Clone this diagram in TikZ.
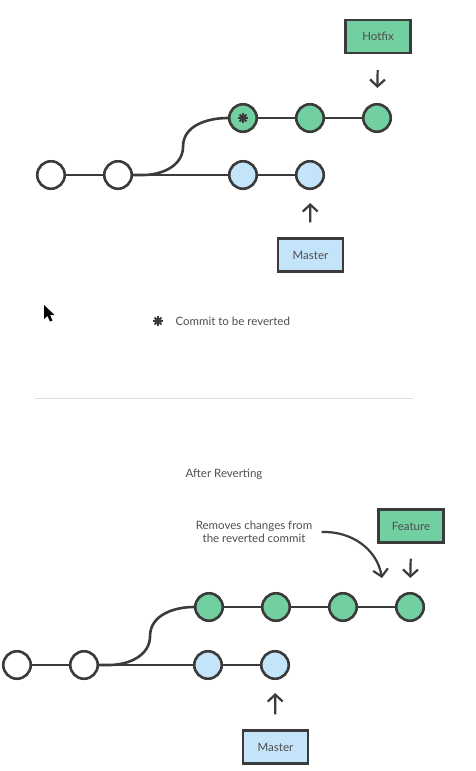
\documentclass[tikz,border=0pt]{standalone}
\usepackage{fontspec}
\setmainfont{Lato}
\usetikzlibrary{arrows.meta}
\definecolor{ink}{HTML}{3B3B3B}
\definecolor{note}{HTML}{4E4E4E}
\definecolor{commitgreen}{HTML}{72CFA0}
\definecolor{commitblue}{HTML}{C4E4FA}
\definecolor{rulegray}{HTML}{DEDEDE}
\tikzset{
  commit/.style={circle,draw=ink,line width=2.6pt,minimum size=27.5pt,inner sep=0pt,fill=white},
  gcommit/.style={commit,fill=commitgreen},
  bcommit/.style={commit,fill=commitblue},
  ref/.style={draw=ink,line width=2.2pt,minimum width=65pt,minimum height=33pt,inner sep=0pt,
              text=note,font=\fontsize{11.5}{13}\selectfont},
  gref/.style={ref,fill=commitgreen},
  bref/.style={ref,fill=commitblue},
  edge/.style={draw=ink,line width=2.6pt},
  ptr/.style={-{Straight Barb[length=7pt,width=15pt]},draw=ink,line width=2.2pt},
  txt/.style={text=note,font=\fontsize{11.5}{12.5}\selectfont,align=center},
  revstar/.pic={
    \fill[ink] (0,0) circle (3pt);
    \foreach \a in {0,45,...,135} \draw[ink,line width=1.8pt] (\a:4.8pt) -- (\a+180:4.8pt);
  }
}

\begin{document}
\begin{tikzpicture}[x=1pt,y=1pt]
  \useasboundingbox (0,0) rectangle (475,-771);

  % before reverting
  \node[commit] (c1) at (51,-175) {};
  \node[commit] (c2) at (118,-175) {};
  \node[bcommit] (m1) at (243,-175) {};
  \node[bcommit] (m2) at (310,-175) {};
  \node[gcommit] (h1) at (243,-118) {};
  \node[gcommit] (h2) at (310,-118) {};
  \node[gcommit] (h3) at (377,-118) {};
  \pic at (h1) {revstar};
  \node[gref] (hotfix) at (378,-36.5) {Hotfix};
  \node[bref] (master) at (310.5,-255) {Master};

  \draw[edge] (c1) -- (c2);
  \draw[edge] (c2) -- (m1);
  \draw[edge] (m1) -- (m2);
  \draw[edge] (c2.east) -- ++(10,0) to[out=0,in=-90] ++(40,28.5) to[out=90,in=180] (h1.west);
  \draw[edge] (h1) -- (h2);
  \draw[edge] (h2) -- (h3);
  \draw[ptr,shorten <=16pt,shorten >=15pt] (hotfix.south) -- (h3.north);
  \draw[ptr,shorten <=15pt,shorten >=13pt] (master.north) -- (m2.south);

  % legend
  \pic at (158,-321) {revstar};
  \node[txt,anchor=west] (legend) at (172,-321) {Commit to be reverted};
  \fill[black] (44,-305) -- (44,-319) -- (47.5,-316) -- (50,-321.5) -- (52.5,-320.5)
    -- (50,-315) -- (54.5,-315) -- cycle;

  \draw[rulegray,line width=0.8pt] (35,-398) -- (413,-398);

  % after reverting
  \node[txt] (title) at (224,-474) {After Reverting};
  \node[commit] (d1) at (17,-665) {};
  \node[commit] (d2) at (84,-665) {};
  \node[bcommit] (n1) at (208,-665) {};
  \node[bcommit] (n2) at (275,-665) {};
  \node[gcommit] (f1) at (209,-607) {};
  \node[gcommit] (f2) at (276,-607) {};
  \node[gcommit] (f3) at (343,-607) {};
  \node[gcommit] (f4) at (410,-607) {};
  \node[gref] (feature) at (411,-526) {Feature};
  \node[bref] (master2) at (275.5,-747) {Master};
  \node[txt] (revnote) at (254,-532) {Removes changes from\\the reverted commit};
  \coordinate (revtip) at (382,-578);

  \draw[edge] (d1) -- (d2);
  \draw[edge] (d2) -- (n1);
  \draw[edge] (n1) -- (n2);
  \draw[edge] (d2.east) -- ++(10,0) to[out=0,in=-90] ++(41,29) to[out=90,in=180] (f1.west);
  \draw[edge] (f1) -- (f2);
  \draw[edge] (f2) -- (f3);
  \draw[edge] (f3) -- (f4);
  \draw[ptr,shorten <=15pt,shorten >=14pt] (feature.south) -- (f4.north);
  \draw[ptr,shorten <=15pt,shorten >=13pt] (master2.north) -- (n2.south);
  \draw[ptr] ([xshift=6pt]revnote.east) to[out=2,in=100] (revtip);
\end{tikzpicture}
\end{document}
